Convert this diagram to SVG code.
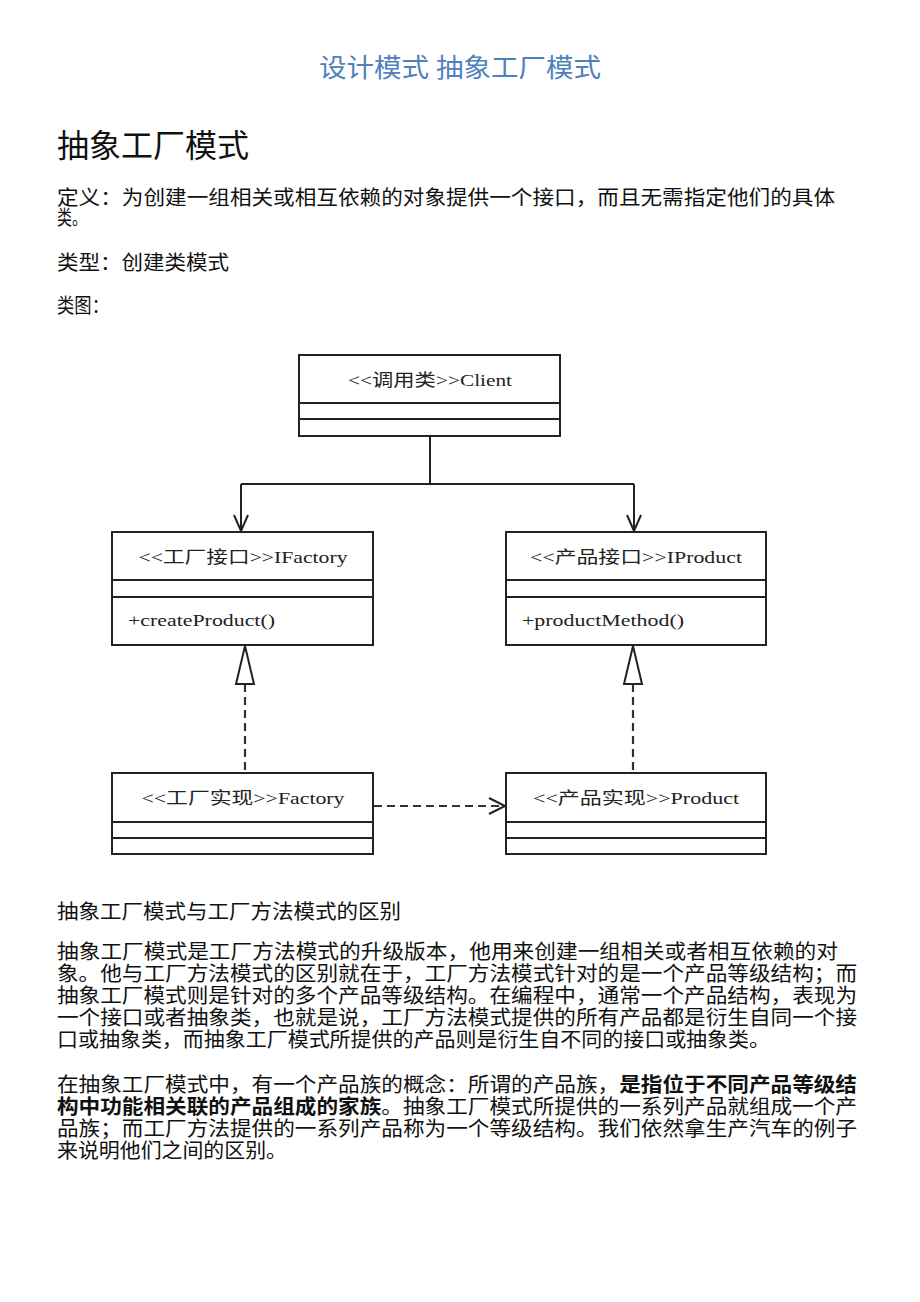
<svg xmlns="http://www.w3.org/2000/svg" width="920" height="1302" viewBox="0 0 920 1302">
<style>
.t{font-family:"Liberation Serif","Noto Sans CJK SC",serif;fill:#111}
.body{font-size:20px}
.box{fill:#fff;stroke:#222;stroke-width:2}
.sep{stroke:#222;stroke-width:2}
.lbl{font-family:"Liberation Serif","Noto Sans CJK SC",serif;font-size:17px;fill:#222}
.solid{fill:none;stroke:#222;stroke-width:2}
.dash{fill:none;stroke:#333;stroke-width:2.2;stroke-dasharray:8,5}
.open{fill:none;stroke:#222;stroke-width:2}
.tri{fill:#fff;stroke:#222;stroke-width:2}
</style>
<rect width="920" height="1302" fill="#fff"/>
<text class="t" x="460" y="77" text-anchor="middle" font-size="26" style="fill:#4f81bd" textLength="282" lengthAdjust="spacingAndGlyphs">设计模式 抽象工厂模式</text>
<text class="t" x="57" y="157" font-size="32" textLength="192" lengthAdjust="spacingAndGlyphs">抽象工厂模式</text>
<text class="t body" x="57" y="205" textLength="778" lengthAdjust="spacingAndGlyphs">定义：为创建一组相关或相互依赖的对象提供一个接口，而且无需指定他们的具体</text>
<text class="t body" x="57" y="225" textLength="30" lengthAdjust="spacingAndGlyphs">类。</text>
<text class="t body" x="57" y="270" textLength="172" lengthAdjust="spacingAndGlyphs">类型：创建类模式</text>
<text class="t body" x="57" y="313" textLength="52" lengthAdjust="spacingAndGlyphs">类图：</text>

<g id="connectors">
<path class="solid" d="M430 436 V484 M241 484 H634 M241 484 V531 M634 484 V531"/>
<path class="open" d="M234 515 L241 531 L248 515"/>
<path class="open" d="M627 515 L634 531 L641 515"/>
<path class="dash" d="M245 684 V773"/>
<polygon class="tri" points="245,646 236,684 254,684"/>
<path class="dash" d="M633 684 V773"/>
<polygon class="tri" points="633,646 624,684 642,684"/>
<path class="dash" d="M374 806 H504"/>
<path class="open" d="M489 798 L505 806 L489 814"/>
</g>

<g id="client">
<rect class="box" x="299" y="355" width="261" height="81"/>
<line class="sep" x1="299" y1="403" x2="560" y2="403"/>
<line class="sep" x1="299" y1="419" x2="560" y2="419"/>
<text class="lbl" x="430" y="386" text-anchor="middle" textLength="164" lengthAdjust="spacingAndGlyphs">&lt;&lt;调用类&gt;&gt;Client</text>
</g>
<g id="ifactory">
<rect class="box" x="112" y="532" width="261" height="113"/>
<line class="sep" x1="112" y1="580" x2="373" y2="580"/>
<line class="sep" x1="112" y1="597" x2="373" y2="597"/>
<text class="lbl" x="243" y="563" text-anchor="middle" textLength="209" lengthAdjust="spacingAndGlyphs">&lt;&lt;工厂接口&gt;&gt;IFactory</text>
<text class="lbl" x="128" y="626" textLength="147" lengthAdjust="spacingAndGlyphs">+createProduct()</text>
</g>
<g id="iproduct">
<rect class="box" x="506" y="532" width="260" height="113"/>
<line class="sep" x1="506" y1="580" x2="766" y2="580"/>
<line class="sep" x1="506" y1="597" x2="766" y2="597"/>
<text class="lbl" x="636" y="563" text-anchor="middle" textLength="212" lengthAdjust="spacingAndGlyphs">&lt;&lt;产品接口&gt;&gt;IProduct</text>
<text class="lbl" x="522" y="626" textLength="162" lengthAdjust="spacingAndGlyphs">+productMethod()</text>
</g>
<g id="factory">
<rect class="box" x="112" y="773" width="261" height="81"/>
<line class="sep" x1="112" y1="822" x2="373" y2="822"/>
<line class="sep" x1="112" y1="838" x2="373" y2="838"/>
<text class="lbl" x="243" y="804" text-anchor="middle" textLength="203" lengthAdjust="spacingAndGlyphs">&lt;&lt;工厂实现&gt;&gt;Factory</text>
</g>
<g id="product">
<rect class="box" x="506" y="773" width="260" height="81"/>
<line class="sep" x1="506" y1="822" x2="766" y2="822"/>
<line class="sep" x1="506" y1="838" x2="766" y2="838"/>
<text class="lbl" x="636" y="804" text-anchor="middle" textLength="206" lengthAdjust="spacingAndGlyphs">&lt;&lt;产品实现&gt;&gt;Product</text>
</g>

<text class="t body" x="57" y="919" textLength="344" lengthAdjust="spacingAndGlyphs">抽象工厂模式与工厂方法模式的区别</text>
<text class="t body" x="57" y="959" textLength="781" lengthAdjust="spacingAndGlyphs">抽象工厂模式是工厂方法模式的升级版本，他用来创建一组相关或者相互依赖的对</text>
<text class="t body" x="57" y="981" textLength="800" lengthAdjust="spacingAndGlyphs">象。他与工厂方法模式的区别就在于，工厂方法模式针对的是一个产品等级结构；而</text>
<text class="t body" x="57" y="1003" textLength="800" lengthAdjust="spacingAndGlyphs">抽象工厂模式则是针对的多个产品等级结构。在编程中，通常一个产品结构，表现为</text>
<text class="t body" x="57" y="1025" textLength="800" lengthAdjust="spacingAndGlyphs">一个接口或者抽象类，也就是说，工厂方法模式提供的所有产品都是衍生自同一个接</text>
<text class="t body" x="57" y="1047" textLength="713" lengthAdjust="spacingAndGlyphs">口或抽象类，而抽象工厂模式所提供的产品则是衍生自不同的接口或抽象类。</text>

<text class="t body" x="57" y="1092" textLength="800" lengthAdjust="spacingAndGlyphs">在抽象工厂模式中，有一个产品族的概念：所谓的产品族，<tspan font-weight="bold">是指位于不同产品等级结</tspan></text>
<text class="t body" x="57" y="1114" textLength="800" lengthAdjust="spacingAndGlyphs"><tspan font-weight="bold">构中功能相关联的产品组成的家族</tspan>。抽象工厂模式所提供的一系列产品就组成一个产</text>
<text class="t body" x="57" y="1136" textLength="800" lengthAdjust="spacingAndGlyphs">品族；而工厂方法提供的一系列产品称为一个等级结构。我们依然拿生产汽车的例子</text>
<text class="t body" x="57" y="1158" textLength="230" lengthAdjust="spacingAndGlyphs">来说明他们之间的区别。</text>
</svg>
